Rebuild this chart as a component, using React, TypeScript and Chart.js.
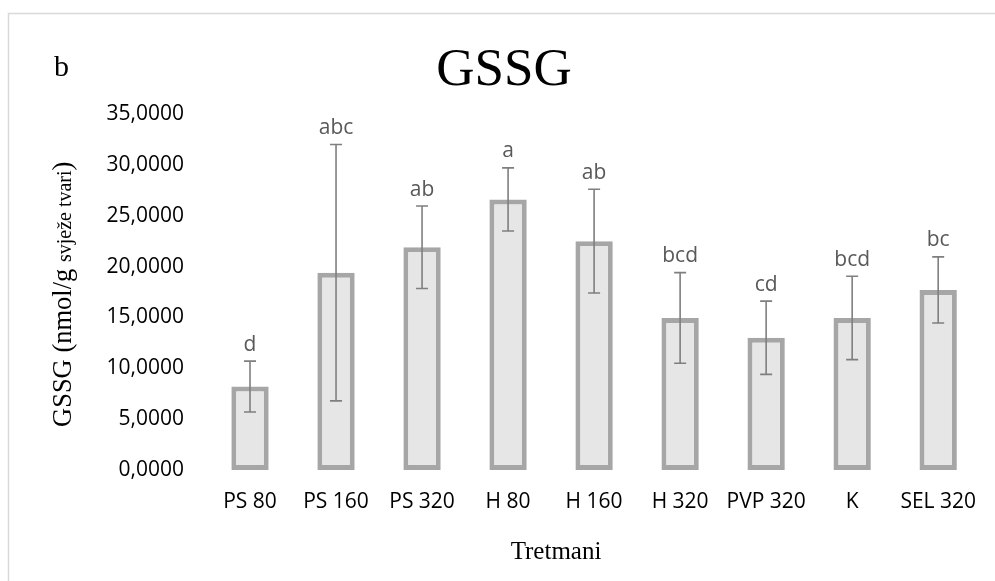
import React, { useEffect, useRef } from "react";
import { Chart, registerables } from "chart.js";
Chart.register(...registerables);

const categories = ["PS 80", "PS 160", "PS 320", "H 80", "H 160", "H 320", "PVP 320", "K", "SEL 320"];
const means = [8.2, 19.4, 21.9, 26.6, 22.5, 14.95, 13.0, 14.95, 17.7];
const sds = [2.5, 12.6, 4.05, 3.1, 5.1, 4.45, 3.6, 4.1, 3.25];
const letters = ["d", "abc", "ab", "a", "ab", "bcd", "cd", "bcd", "bc"];
const yTicks = [0, 5, 10, 15, 20, 25, 30, 35];
const chartTitle = "GSSG";
const panelLabel = "b";
const xAxisTitle = "Tretmani";
const yTitleMain = "GSSG (nmol/g ";
const yTitleSmall = "svježe tvari";
const yTitleEnd = ")";

const SERIF = "'Liberation Serif', 'Times New Roman', serif";
const SANS = "'Open Sans', 'Noto Sans', sans-serif";

const overlay = {
  id: "overlay",
  beforeDraw(chart: any) {
    const ctx = chart.ctx;
    ctx.save();
    ctx.strokeStyle = "#D9D9D9";
    ctx.lineWidth = 1.5;
    ctx.strokeRect(8.5, 13.5, 1100, 700);
    ctx.restore();
  },
  afterDatasetsDraw(chart: any) {
    const ctx = chart.ctx;
    const meta = chart.getDatasetMeta(0);
    const ys = chart.scales.y;
    ctx.save();
    ctx.strokeStyle = "#7F7F7F";
    ctx.lineWidth = 1.6;
    meta.data.forEach((bar: any, i: number) => {
      const x = bar.x;
      const yTop = ys.getPixelForValue(means[i] + sds[i]);
      const yBot = ys.getPixelForValue(means[i] - sds[i]);
      ctx.beginPath();
      ctx.moveTo(x, yTop);
      ctx.lineTo(x, yBot);
      ctx.moveTo(x - 6, yTop);
      ctx.lineTo(x + 6, yTop);
      ctx.moveTo(x - 6, yBot);
      ctx.lineTo(x + 6, yBot);
      ctx.stroke();
      ctx.fillStyle = "#595959";
      ctx.font = `21px ${SANS}`;
      ctx.textAlign = "center";
      ctx.textBaseline = "alphabetic";
      ctx.fillText(letters[i], x, yTop - 10.5);
    });
    ctx.restore();
  },
  afterDraw(chart: any) {
    const ctx = chart.ctx;
    ctx.save();
    ctx.fillStyle = "#000";
    ctx.textBaseline = "alphabetic";
    ctx.textAlign = "center";
    ctx.font = `53px ${SERIF}`;
    ctx.fillText(chartTitle, 504, 85);
    ctx.textAlign = "left";
    ctx.font = `30px ${SERIF}`;
    ctx.fillText(panelLabel, 54, 76);
    ctx.textAlign = "center";
    ctx.font = `25px ${SERIF}`;
    ctx.fillText(xAxisTitle, 556, 559);
    // y axis title
    ctx.translate(71, 427);
    ctx.rotate(-Math.PI / 2);
    ctx.textAlign = "left";
    ctx.font = `26.5px ${SERIF}`;
    let x = 0;
    ctx.fillText(yTitleMain, x, 0);
    x += ctx.measureText(yTitleMain).width;
    ctx.font = `20px ${SERIF}`;
    ctx.fillText(yTitleSmall, x, 0);
    x += ctx.measureText(yTitleSmall).width;
    ctx.font = `26.5px ${SERIF}`;
    ctx.fillText(yTitleEnd, x, 0);
    ctx.restore();
  },
};

export default function App() {
  const ref = useRef<HTMLCanvasElement>(null);
  useEffect(() => {
    if (!ref.current) return;
    const chart = new Chart(ref.current, {
      type: "bar",
      data: {
        labels: categories,
        datasets: [
          {
            data: means,
            backgroundColor: "#E6E6E6",
            borderColor: "#A6A6A6",
            borderWidth: 5,
            borderSkipped: false,
            barPercentage: 0.434,
            categoryPercentage: 1,
          },
        ],
      },
      options: {
        animation: false,
        responsive: false,
        maintainAspectRatio: false,
        layout: { padding: { left: 0, right: 0, top: 114, bottom: 0 } },
        plugins: { legend: { display: false }, tooltip: { enabled: false }, title: { display: false } },
        scales: {
          x: {
            grid: { display: false, drawTicks: false },
            border: { display: false },
            ticks: { color: "#000", font: { family: SANS, size: 21 }, padding: 19, maxRotation: 0, autoSkip: false },
            afterFit: (s: any) => {
              s.height = 111;
            },
          },
          y: {
            min: 0,
            max: 35,
            grid: { display: false, drawTicks: false },
            border: { display: false },
            afterBuildTicks: (s: any) => {
              s.ticks = yTicks.map((v) => ({ value: v }));
            },
            ticks: {
              color: "#000",
              font: { family: SANS, size: 21 },
              padding: 23,
              callback: (v: any) => Number(v).toFixed(4).replace(".", ","),
            },
            afterFit: (s: any) => {
              s.width = 207;
            },
          },
        },
      },
      plugins: [overlay],
    });
    return () => chart.destroy();
  }, []);
  return (
    <div style={{ position: "fixed", left: 0, top: 0, width: 995, height: 581, overflow: "hidden", background: "#fff" }}>
      <canvas ref={ref} width={995} height={581} style={{ display: "block", width: 995, height: 581 }} />
    </div>
  );
}
